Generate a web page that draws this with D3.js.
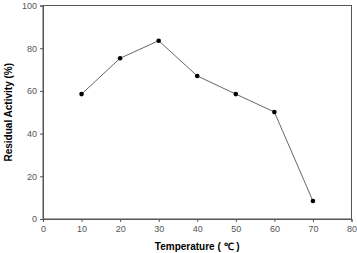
<!DOCTYPE html>
<html><head><meta charset="utf-8">
<script src="https://cdn.jsdelivr.net/npm/d3@7"></script>
<style>body{margin:0;background:#fff;} svg{display:block;}</style>
</head><body>
<script>
const temperatures = [10, 20, 30, 40, 50, 60, 70];
const activity = [58.5, 75.3, 83.5, 67.0, 58.5, 50.1, 8.4];
const xTicks = [0, 10, 20, 30, 40, 50, 60, 70, 80];
const yTicks = [0, 20, 40, 60, 80, 100];
const xTitle = "Temperature ( ℃ )";
const yTitle = "Residual Activity (%)";

const W = 357, H = 253;
const m = {left: 43, right: 5.5, top: 5.5, bottom: 34};
const svg = d3.select("body").append("svg").attr("width", W).attr("height", H);
const x = d3.scaleLinear().domain([0, 80]).range([m.left, W - m.right]);
const y = d3.scaleLinear().domain([0, 100]).range([H - m.bottom, m.top]);
const axisColor = "#555";
const font = "Liberation Sans, Arial, sans-serif";

// frame
svg.append("rect").attr("x", x(0)).attr("y", y(100))
  .attr("width", x(80) - x(0)).attr("height", y(0) - y(100))
  .attr("fill", "none").attr("stroke", axisColor).attr("stroke-width", 1);

const gx = svg.append("g").attr("transform", `translate(0,${y(0)})`)
  .call(d3.axisBottom(x).tickValues(xTicks).tickSize(3).tickPadding(4));
const gy = svg.append("g").attr("transform", `translate(${x(0)},0)`)
  .call(d3.axisLeft(y).tickValues(yTicks).tickSize(3).tickPadding(3));
[gx, gy].forEach(g => {
  g.select(".domain").attr("stroke", axisColor);
  g.selectAll(".tick line").attr("stroke", axisColor);
  g.selectAll(".tick text").attr("fill", "#555").attr("font-size", 9).attr("font-family", font);
});

const line = d3.line().x((d, i) => x(temperatures[i])).y(d => y(d));
svg.append("path").datum(activity).attr("d", line)
  .attr("fill", "none").attr("stroke", "#555").attr("stroke-width", 0.9);
svg.selectAll("circle.pt").data(activity).enter().append("circle")
  .attr("cx", (d, i) => x(temperatures[i])).attr("cy", d => y(d)).attr("r", 2.3).attr("fill", "#000");

svg.append("text").attr("x", (x(0) + x(80)) / 2).attr("y", 250)
  .attr("text-anchor", "middle").attr("font-family", font).attr("font-weight", "bold")
  .attr("font-size", 10).attr("fill", "#000").text(xTitle);
svg.append("text").attr("transform", `translate(12,${(y(0) + y(100)) / 2}) rotate(-90)`)
  .attr("text-anchor", "middle").attr("font-family", font).attr("font-weight", "bold")
  .attr("font-size", 10).attr("fill", "#000").text(yTitle);
</script>
</body></html>
